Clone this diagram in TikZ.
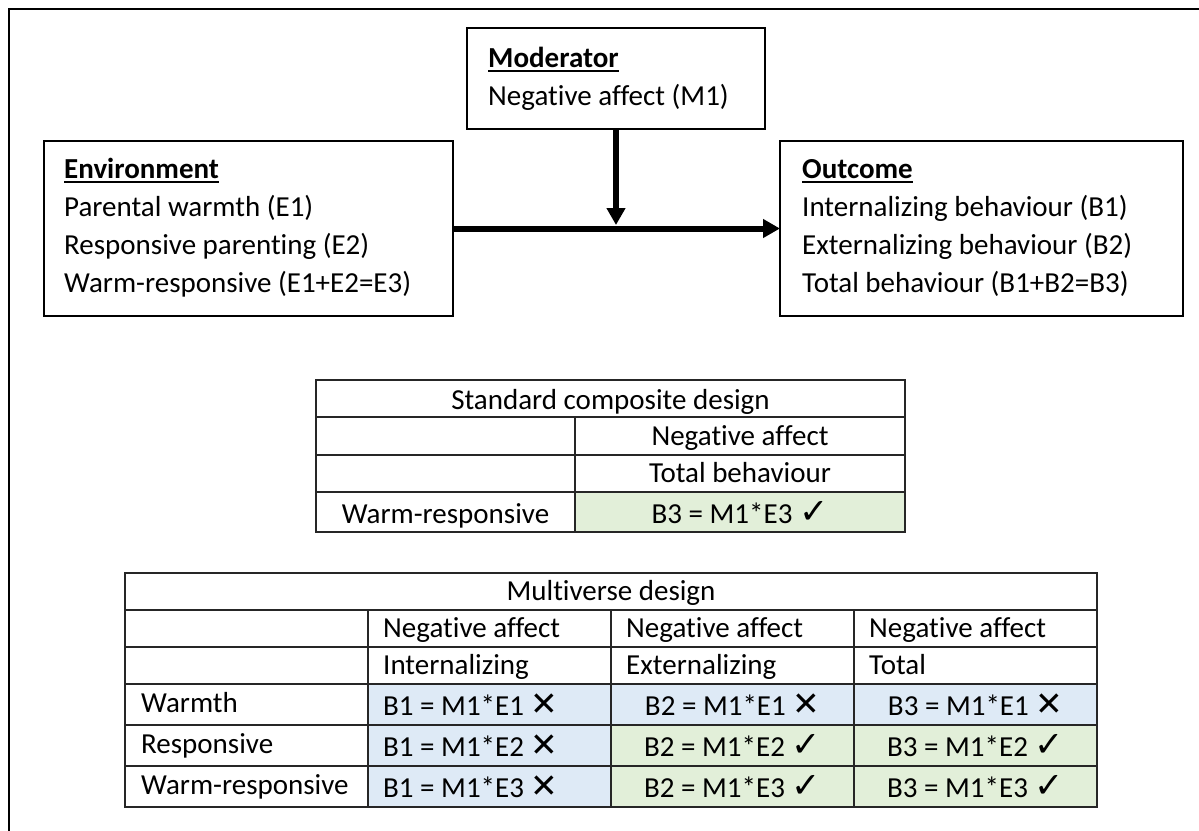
\documentclass[tikz,border=0pt]{standalone}
\usepackage{fontspec}
\setmainfont{Carlito}[Ligatures=NoCommon]
\newfontfamily\symfont{DejaVu Sans}
\usetikzlibrary{arrows.meta}

\definecolor{cellgreen}{HTML}{E2EFD9}
\definecolor{cellblue}{HTML}{DEEAF6}
\definecolor{rulegray}{HTML}{262626}

% check and cross marks
\newcommand\okmark{{\symfont\fontsize{35}{38}\selectfont ✓}}
\newcommand\nomark{{\symfont\bfseries\fontsize{33}{38}\selectfont ✕}}
% bold heading with an underline
\newcommand\hdr[1]{\setbox0\hbox{\bfseries #1}\rlap{\rule[-4.5pt]{\wd0}{1.8pt}}\box0}

\tikzset{
  frameline/.style={line width=2.4pt, draw=black},
  boxnode/.style={draw=black, line width=1.3pt, inner sep=0pt, outer sep=0pt, fill=white},
  arr/.style={line width=6pt, -{Triangle[length=17pt,width=18pt]}},
  txt/.style={anchor=base west, inner sep=0pt, font=\fontsize{29}{38}\selectfont},
  ctxt/.style={anchor=base, inner sep=0pt, font=\fontsize{29}{38}\selectfont},
  gridline/.style={draw=rulegray, line width=1.3pt},
}

\begin{document}
\begin{tikzpicture}[x=1pt,y=-1pt]
\useasboundingbox (0,0) rectangle (1199,830);
\fill[white] (0,0) rectangle (1199,830);

% outer frame (runs off the right and bottom edges)
\draw[frameline] (1210,9) -- (9,9) -- (9,840);

% ---- model boxes ----
\node[boxnode, minimum width=298pt, minimum height=101pt] (mod) at (616,78.5) {};
\node[boxnode, minimum width=409pt, minimum height=175pt] (env) at (248.5,228.5) {};
\node[boxnode, minimum width=403pt, minimum height=175pt] (out) at (981.5,228.5) {};

\node[txt] (modh) at (488,67) {\hdr{Moderator}};
\node[txt] (mod1) at (488,105) {Negative affect (M1)};

\node[txt] (envh) at (64,178) {\hdr{Environment}};
\node[txt] (env1) at (64,216) {Parental warmth (E1)};
\node[txt] (env2) at (64,254) {Responsive parenting (E2)};
\node[txt] (env3) at (64,292) {Warm-responsive (E1+E2=E3)};

\node[txt] (outh) at (802,178) {\hdr{Outcome}};
\node[txt] (out1) at (802,216) {Internalizing behaviour (B1)};
\node[txt] (out2) at (802,254) {Externalizing behaviour (B2)};
\node[txt] (out3) at (802,292) {Total behaviour (B1+B2=B3)};

% ---- connectors ----
\coordinate (jn) at (616,225);
\draw[arr] (env.east) -- (out.west);
\draw[arr] (mod.south) -- (jn);

% ---- standard composite design table ----
\fill[cellgreen] (575,492) rectangle (905,532);
\draw[gridline] (316,380) rectangle (905,532);
\draw[gridline] (316,417) -- (905,417);
\draw[gridline] (316,455) -- (905,455);
\draw[gridline] (316,492) -- (905,492);
\draw[gridline] (575,417) -- (575,532);

\node[ctxt] (st) at (610.5,409) {Standard composite design};
\node[ctxt] (sm) at (740,445) {Negative affect};
\node[ctxt] (sb) at (740,482) {Total behaviour};
\node[ctxt] (sr) at (445.5,523) {Warm-responsive};
\node[ctxt] (sc) at (740,523) {B3 = M1*E3 \okmark};

% ---- multiverse design table ----
\fill[cellblue] (368,684) rectangle (611,807);
\fill[cellblue] (611,684) rectangle (1097,725);
\fill[cellgreen] (611,725) rectangle (1097,807);
\draw[gridline] (125,573) rectangle (1097,807);
\foreach \yy in {610,647,684,725,766}
  \draw[gridline] (125,\yy) -- (1097,\yy);
\foreach \xx in {368,611,854}
  \draw[gridline] (\xx,610) -- (\xx,807);

\node[ctxt] (mt) at (611,600) {Multiverse design};
\node[txt] (m2a) at (383,637) {Negative affect};
\node[txt] (m3a) at (626,637) {Negative affect};
\node[txt] (m4a) at (869,637) {Negative affect};
\node[txt] (m2b) at (383,674) {Internalizing};
\node[txt] (m3b) at (626,674) {Externalizing};
\node[txt] (m4b) at (869,674) {Total};

\node[txt] (rw) at (141,712) {Warmth};
\node[txt] (rr) at (141,753) {Responsive};
\node[txt] (rwr) at (141,794) {Warm-responsive};

\node[txt] (c21) at (383,715) {B1 = M1*E1 \nomark};
\node[txt] (c22) at (383,756) {B1 = M1*E2 \nomark};
\node[txt] (c23) at (383,797) {B1 = M1*E3 \nomark};
\node[ctxt] (c31) at (732.5,715) {B2 = M1*E1 \nomark};
\node[ctxt] (c32) at (732.5,756) {B2 = M1*E2 \okmark};
\node[ctxt] (c33) at (732.5,797) {B2 = M1*E3 \okmark};
\node[ctxt] (c41) at (975.5,715) {B3 = M1*E1 \nomark};
\node[ctxt] (c42) at (975.5,756) {B3 = M1*E2 \okmark};
\node[ctxt] (c43) at (975.5,797) {B3 = M1*E3 \okmark};
\end{tikzpicture}
\end{document}
